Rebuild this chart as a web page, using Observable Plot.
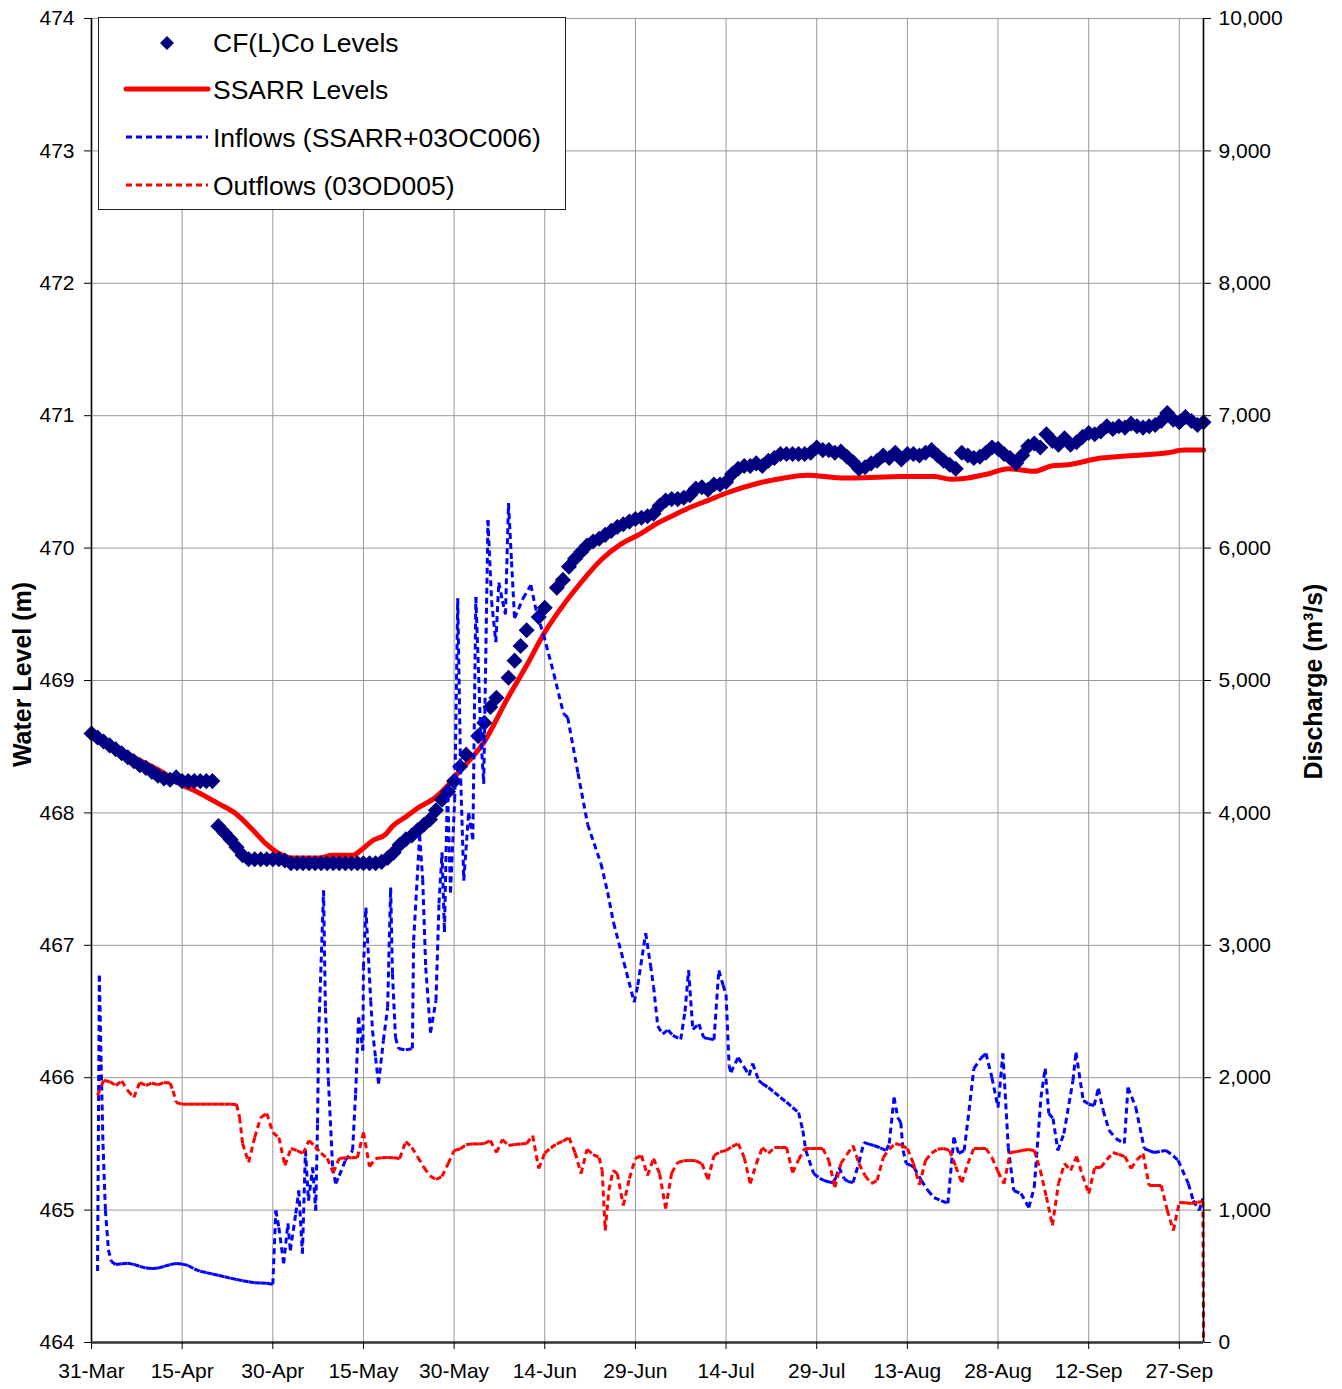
<!DOCTYPE html>
<html>
<head>
<meta charset="utf-8">
<script src="https://cdn.jsdelivr.net/npm/d3@7"></script>
<script src="https://cdn.jsdelivr.net/npm/@observablehq/plot@0.6"></script>
<style>
  html, body { margin: 0; padding: 0; background: #fff; }
  #wrap { position: relative; width: 1342px; height: 1389px; font-family: "Liberation Sans", Arial, sans-serif; }
  #wrap svg { display: block; }
  #legend { position: absolute; left: 98px; top: 17px; }
</style>
</head>
<body>
<div id="wrap"></div>
<script>
// ---------------- DATA ----------------
const startDate = "2007-03-31";          // day 0 of the series
const endDay = 184;                      // 1-Oct
const tickDates = ["2007-03-31","2007-04-15","2007-04-30","2007-05-15","2007-05-30","2007-06-14",
  "2007-06-29","2007-07-14","2007-07-29","2007-08-13","2007-08-28","2007-09-12","2007-09-27"];
const levelTicks = [464,465,466,467,468,469,470,471,472,473,474];
const dischargeTicks = [0,1000,2000,3000,4000,5000,6000,7000,8000,9000,10000];

const seriesNames = ["CF(L)Co Levels","SSARR Levels","Inflows (SSARR+03OC006)","Outflows (03OD005)"];

// CF(L)Co levels [day, m]
const cflcoLevels = [
 [0,468.60],[1,468.57],[2,468.54],[3,468.51],[4,468.48],[5,468.45],[6,468.42],[7,468.39],[8,468.36],[9,468.34],
 [10,468.31],[11,468.28],[12,468.26],[13,468.25],[14,468.27],[15,468.24],[16,468.24],[17,468.24],[18,468.24],[19,468.24],[20,468.24],
 [21,467.90],[22,467.85],[23,467.80],[24,467.74],[25,467.68],[26,467.65],[27,467.65],[28,467.65],[29,467.65],[30,467.65],
 [31,467.65],[32,467.64],[33,467.62],[34,467.62],[35,467.62],[36,467.62],[37,467.62],[38,467.62],[39,467.62],[40,467.62],
 [41,467.62],[42,467.62],[43,467.62],[44,467.62],[45,467.62],[46,467.62],[47,467.62],[48,467.63],[49,467.66],[50,467.70],
 [51,467.76],[52,467.80],[53,467.83],[54,467.87],[55,467.91],[56,467.95],[57,468.02],[58,468.10],[59,468.16],[60,468.24],
 [61,468.35],[62,468.44],[64,468.58],[65,468.68],[66,468.80],[67,468.87],[69,469.02],[70,469.15],[71,469.26],[72,469.38],
 [74,469.48],[75,469.55],[77,469.70],[78,469.76],[79,469.86],[80,469.92],[81,469.97],[82,470.02],[83,470.05],[84,470.07],
 [85,470.10],[86,470.13],[87,470.16],[88,470.18],[89,470.20],[90,470.22],[91,470.23],[92,470.24],[93,470.26],[94,470.32],
 [95,470.36],[96,470.37],[97,470.37],[98,470.38],[99,470.40],[100,470.45],[101,470.46],[102,470.44],[103,470.48],[104,470.48],
 [105,470.50],[106,470.56],[107,470.60],[108,470.62],[109,470.62],[110,470.64],[111,470.62],[112,470.66],[113,470.68],[114,470.71],
 [115,470.71],[116,470.71],[117,470.71],[118,470.71],[119,470.72],[120,470.76],[121,470.74],[122,470.74],[123,470.72],[124,470.73],
 [125,470.69],[126,470.65],[127,470.60],[128,470.61],[129,470.64],[130,470.66],[131,470.70],[132,470.68],[133,470.72],[134,470.67],
 [135,470.71],[136,470.71],[137,470.70],[138,470.72],[139,470.74],[140,470.70],[141,470.66],[142,470.63],[143,470.60],[144,470.72],
 [145,470.70],[146,470.68],[147,470.69],[148,470.72],[149,470.76],[150,470.75],[151,470.71],[152,470.68],[153,470.64],[154,470.70],
 [155,470.77],[156,470.79],[157,470.76],[158,470.86],[159,470.81],[160,470.78],[161,470.83],[162,470.78],[163,470.80],[164,470.84],
 [165,470.87],[166,470.86],[167,470.88],[168,470.92],[169,470.90],[170,470.92],[171,470.91],[172,470.94],[173,470.92],[174,470.91],
 [175,470.92],[176,470.93],[177,470.96],[178,471.02],[179,470.97],[180,470.95],[181,470.99],[182,470.96],[183,470.93],[184,470.95]
];

// SSARR levels [day, m]
const ssarrLevels = [
 [0,468.60],[7,468.42],[12,468.30],[15,468.21],[17,468.17],[21,468.07],[24,467.99],[26.7,467.87],[28.8,467.77],[30.8,467.70],
 [33.3,467.66],[37.6,467.66],[39.9,467.68],[43.2,467.68],[44.9,467.73],[46.5,467.79],[48.7,467.84],[49.8,467.90],[52,467.97],
 [54.1,468.04],[57,468.12],[58.6,468.19],[60.8,468.31],[64.9,468.53],[68.9,468.87],[72.2,469.13],[74.8,469.35],[77.6,469.54],
 [81,469.74],[84.3,469.91],[87.6,470.03],[90.9,470.11],[93.7,470.19],[96.4,470.25],[99.2,470.31],[102,470.36],[105.3,470.42],
 [110.3,470.49],[114.6,470.53],[118.5,470.55],[124,470.53],[126.2,470.53],[134,470.54],[139.4,470.54],[142.2,470.52],[145,470.53],
 [148.3,470.56],[151.7,470.60],[156,470.58],[158.8,470.62],[161.6,470.63],[167,470.68],[172.5,470.70],[178.1,470.72],[180.8,470.74],[184,470.74]
];

// Inflows [day, m3/s]
const inflows = [
 [1,540],[1.3,2770],[1.6,2100],[1.9,1500],[2.3,1000],[2.8,700],[3.3,610],[4,590],[5,595],[6,598],[7,590],[8,575],[9,562],[10,558],
 [11,562],[12,575],[13,588],[14,597],[15,592],[16,582],[17,555],[18,538],[19,528],[20,518],[21,508],[22,496],[23,486],[24,476],
 [25,467],[26,458],[27,452],[28,450],[29,447],[30,440],
 [30.5,997],[31,869],[31.8,597],[32.5,899],[32.9,695],[33.8,974],[34.3,1148],[34.9,672],[35.4,1450],[35.9,1072],[36.6,1322],
 [37.1,997],[37.4,1654],[37.6,2341],[38.4,3414],[38.7,2530],[39.2,1979],[39.9,1322],[40.4,1200],[41,1260],[42,1375],[43.2,1450],
 [43.7,1880],[44.2,2455],[44.9,2205],[45,2832],[45.4,3285],[46.2,2583],[46.5,2356],[47,2152],[47.5,1956],[48.3,2281],[49,2530],
 [49.5,3437],[49.8,2787],[50.3,2304],[50.8,2220],[52,2210],[53.1,2220],[53.3,3036],[54.3,3830],[54.8,3500],[55.3,2832],[56.1,2341],
 [57,2583],[57.5,3316],[58,3700],[58.4,3100],[58.9,4200],[59.4,3400],[60.1,4100],[60.6,5620],[61.1,4250],[61.6,3490],[62.4,4000],
 [63.1,3800],[63.6,5630],[64.4,4600],[64.9,4220],[65.6,6210],[66.2,5600],[66.9,5290],[67.4,5740],[68,5600],[68.5,5500],[69,6340],
 [69.5,5900],[70,5470],[71.4,5620],[72.7,5720],[73.7,5500],[74.8,5347],[76.5,5050],[78.1,4751],[78.8,4720],[80.5,4300],[82.1,3912],
 [84.3,3617],[85.4,3400],[86.4,3167],[88.1,2870],[89.8,2570],[90.4,2700],[91.7,3092],[92.5,2850],[93,2689],[93.7,2390],[94.5,2330],
 [95.4,2361],[96.2,2320],[97.5,2288],[98.2,2500],[98.8,2810],[99.5,2364],[100.5,2406],[101.3,2303],[102,2295],[103,2288],[103.8,2810],
 [104.5,2700],[105,2628],[105.5,2092],[105.8,2040],[107,2152],[108,2080],[108.8,2017],[109.4,2107],[110.4,1979],[111,1955],[112,1926],
 [113,1890],[114,1850],[115,1815],[116,1775],[117,1737],[117.7,1601],[118.2,1450],[119.5,1276],[120.5,1240],[121.2,1224],[122,1212],
 [122.7,1208],[123.2,1246],[123.7,1322],[124.5,1239],[125.2,1215],[126,1208],[127,1360],[127.8,1511],[128.5,1500],[129.5,1488],
 [130.5,1470],[131.5,1450],[132,1503],[132.8,1850],[133.4,1700],[133.9,1662],[134.3,1450],[134.8,1352],[135.5,1340],[136.1,1322],
 [137.3,1224],[138.4,1148],[139.4,1095],[140.6,1072],[141.7,1050],[142.7,1548],[143.5,1427],[144.4,1450],[145.2,1750],[146,2069],
 [147.2,2150],[148,2183],[149,2000],[150,1775],[150.8,2183],[151.7,1473],[152.6,1148],[153.8,1125],[155.1,1020],[156,1171],
 [157.1,1850],[157.8,2069],[158.4,1730],[159.1,1692],[159.9,1450],[160.9,1578],[162.4,1979],[162.9,2190],[164.1,1828],[165,1800],
 [165.9,1790],[166.6,1918],[167.4,1752],[168.4,1601],[169.5,1540],[170.9,1503],[171.5,1926],[172.8,1775],[174.2,1465],[175,1450],
 [175.8,1435],[177,1445],[177.8,1450],[179,1410],[179.8,1375],[181.5,1200],[182.3,1072],[183.3,997],[183.9,1088]
];

// Outflows [day, m3/s]
const outflows = [
 [1,1866],[2,1979],[3,1971],[4,1941],[5,1975],[6,1903],[7,1850],[8,1964],[9,1941],[10,1960],[11,1945],[12,1964],[13,1960],
 [13.5,1900],[14,1813],[15,1800],[16,1800],[17,1800],[18,1800],[19,1800],[20,1800],[21,1800],[22,1800],[23,1800],[24,1798],
 [24.5,1700],[25,1503],[26,1360],[27,1548],[28,1700],[29,1730],[30,1586],[31,1548],[32,1337],[33,1465],[34,1450],[35,1427],
 [36,1526],[37,1480],[38,1430],[39,1390],[40,1284],[41,1390],[42,1395],[43,1395],[44,1397],[45,1586],[46,1329],[47,1390],
 [48,1395],[49,1397],[50,1395],[51,1390],[52,1518],[53,1473],[54,1400],[55,1322],[56,1260],[57,1231],[58,1254],[59,1350],
 [60,1450],[61,1462],[62,1495],[63,1500],[64,1500],[65,1503],[66,1526],[67,1435],[68,1533],[69,1488],[70,1495],[71,1500],
 [72,1503],[73,1563],[74,1314],[75,1430],[76,1470],[77,1500],[78,1520],[79,1548],[80,1435],[81,1276],[82,1458],[83,1420],
 [84,1397],[84.5,1299],[85,846],[85.6,1148],[86.3,1299],[87,1276],[88,1035],[89,1239],[90,1390],[91,1412],[92,1261],[93,1390],
 [94,1276],[95,1012],[96,1280],[97,1360],[98,1372],[99,1375],[100,1372],[101,1352],[102,1231],[103,1412],[104,1440],[105,1450],
 [106,1480],[107,1503],[108,1397],[109,1200],[110,1350],[111,1473],[112,1427],[113,1473],[114,1473],[115,1473],[116,1284],
 [117,1380],[118,1465],[119,1465],[120,1465],[121,1465],[122,1375],[123,1171],[124,1352],[125,1420],[126,1488],[127,1350],
 [128,1260],[129,1200],[130,1224],[131,1397],[132,1460],[133,1503],[134,1490],[135,1465],[136,1352],[137,1190],[138,1375],
 [139,1430],[140,1460],[141,1465],[142,1450],[143,1330],[144,1208],[145,1350],[146,1465],[147,1465],[148,1465],[149,1397],
 [150,1290],[151,1200],[152,1435],[153,1440],[154,1450],[155,1458],[156,1450],[157,1300],[158,1100],[159,884],[160,1200],
 [160.5,1276],[161,1352],[162,1299],[163,1405],[164,1260],[165,1125],[166,1322],[167,1322],[168,1380],[169,1435],[170,1420],
 [171,1405],[172,1314],[173,1380],[174,1427],[175,1186],[176,1186],[177,1186],[178,1000],[179,846],[180,1057],[181,1055],
 [182,1050],[183,1060],[183.9,1065],[184,0]
];

// ---------------- HELPERS ----------------
const DAY = 864e5;
const t0 = new Date(startDate + "T00:00:00Z").getTime();
const toDate = d => new Date(t0 + d * DAY);
const qToLevel = q => 464 + q / 1000;            // secondary axis mapped onto the level scale
const ticksX = tickDates.map(s => new Date(s + "T00:00:00Z"));
const fmtX = d3.utcFormat("%-d-%b");
const fmtQ = d3.format(",");

function segments(series, toY) {
  const out = [];
  for (let i = 1; i < series.length; i++) {
    const a = series[i - 1], b = series[i];
    out.push({x1: toDate(a[0]), y1: toY(a[1]), x2: toDate(b[0]), y2: toY(b[1])});
  }
  return out;
}
const inflowSegs = segments(inflows, qToLevel);
const outflowSegs = segments(outflows, qToLevel);

const diamond = {
  draw(ctx, size) {
    const r = Math.sqrt(size / 2);
    ctx.moveTo(0, -r); ctx.lineTo(r, 0); ctx.lineTo(0, r); ctx.lineTo(-r, 0); ctx.closePath();
  }
};

const FONT = "Liberation Sans, Arial, Helvetica, sans-serif";

const chart = Plot.plot({
  width: 1342,
  height: 1389,
  marginLeft: 91,
  marginRight: 139,
  marginTop: 18,
  marginBottom: 47,
  style: {fontFamily: FONT, fontSize: "21px", color: "black", background: "white", overflow: "visible"},
  x: {type: "utc", domain: [toDate(0), toDate(endDay)]},
  y: {domain: [464, 474]},
  marks: [
    Plot.gridX({ticks: ticksX, stroke: "#999", strokeOpacity: 1, strokeWidth: 1}),
    Plot.gridY({ticks: levelTicks, stroke: "#999", strokeOpacity: 1, strokeWidth: 1}),
    Plot.line(ssarrLevels, {x: d => toDate(d[0]), y: d => d[1], stroke: "#ff0000", strokeWidth: 5, curve: "monotone-x"}),
    Plot.dot(cflcoLevels, {x: d => toDate(d[0]), y: d => d[1], symbol: diamond, r: 6.4, fill: "#000080", stroke: "none"}),
    Plot.link(inflowSegs, {x1: "x1", y1: "y1", x2: "x2", y2: "y2", stroke: "#0000ff", strokeWidth: 3, strokeDasharray: "6,4", curve: "linear"}),
    Plot.link(outflowSegs, {x1: "x1", y1: "y1", x2: "x2", y2: "y2", stroke: "#ff0000", strokeWidth: 3, strokeDasharray: "6,4", curve: "linear"}),
    Plot.ruleX([toDate(0)], {stroke: "black", strokeWidth: 1.6}),
    Plot.ruleX([toDate(endDay)], {stroke: "black", strokeWidth: 1.6}),
    Plot.ruleY([464], {stroke: "#333", strokeWidth: 2.6}),
    Plot.axisX({ticks: ticksX, tickFormat: fmtX, tickSize: 7, tickPadding: 14, fontSize: 21, label: null}),
    Plot.axisY({anchor: "left", ticks: levelTicks, tickFormat: d => String(d), tickSize: 7, tickPadding: 10, fontSize: 21, label: null}),
    Plot.axisY({anchor: "right", ticks: dischargeTicks.map(qToLevel), tickFormat: d => fmtQ(Math.round((d - 464) * 1000)), tickSize: 7, tickPadding: 8, fontSize: 21, label: null}),
    Plot.text(["Water Level (m)"], {frameAnchor: "left", textAnchor: "middle", dx: -69, dy: -6, rotate: -90, fontSize: 25, fontWeight: "bold", fill: "black"}),
    Plot.text(["Discharge (m³/s)"], {frameAnchor: "right", textAnchor: "middle", dx: 110, dy: 1, rotate: -90, fontSize: 25, fontWeight: "bold", fill: "black"})
  ]
});

const wrap = document.getElementById("wrap");
wrap.appendChild(chart);

// ---------------- LEGEND (overlay, top-left inside plot) ----------------
const lw = 467, lh = 192;
const leg = d3.select(wrap).append("svg").attr("id", "legend")
  .attr("width", lw + 2).attr("height", lh + 2)
  .style("font-family", FONT);
leg.append("rect").attr("x", 0.5).attr("y", 0.5).attr("width", lw).attr("height", lh)
  .attr("fill", "white").attr("stroke", "#222").attr("stroke-width", 1);
const rows = [25, 72, 120, 168];
const sx1 = 28, sx2 = 110, tx = 115;
leg.append("path").attr("d", "M69,18L76,25L69,32L62,25Z").attr("transform", "translate(0,1)").attr("fill", "#000080");
leg.append("line").attr("x1", sx1).attr("x2", sx2).attr("y1", rows[1]).attr("y2", rows[1])
  .attr("stroke", "#ff0000").attr("stroke-width", 5).attr("stroke-linecap", "round");
leg.append("line").attr("x1", sx1).attr("x2", sx2).attr("y1", rows[2]).attr("y2", rows[2])
  .attr("stroke", "#0000ff").attr("stroke-width", 3).attr("stroke-dasharray", "6,4");
leg.append("line").attr("x1", sx1).attr("x2", sx2).attr("y1", rows[3]).attr("y2", rows[3])
  .attr("stroke", "#ff0000").attr("stroke-width", 3).attr("stroke-dasharray", "6,4");
seriesNames.forEach((name, i) => {
  leg.append("text").attr("x", tx).attr("y", rows[i] + 1).attr("dy", "0.35em")
    .attr("font-size", 26.5).attr("fill", "black").text(name);
});
</script>
</body>
</html>
